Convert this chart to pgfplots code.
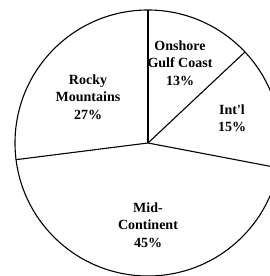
\documentclass[border=0pt]{standalone}
\usepackage{pgfplots}
\pgfplotsset{compat=1.18}
\usepackage{fontspec}
\setmainfont{Liberation Serif}
\begin{document}
\begin{tikzpicture}
\useasboundingbox (0,0) rectangle (270pt,276pt);
\clip (0,0) rectangle (270pt,276pt);
\begin{axis}[
  at={(0,0)}, anchor=south west,
  scale only axis, width=270pt, height=276pt,
  xmin=-148, xmax=122, ymin=-133, ymax=143,
  hide axis, clip=true,
]
% slice boundaries (shares 13, 15, 45, 27 percent, clockwise from top, radius 133)
\addplot[black, line width=1.1pt] coordinates {(0,0) (0,133)};
\addplot[black, line width=1.1pt] coordinates {(0,0) (96.96,91.04)};
\addplot[black, line width=1.1pt] coordinates {(0,0) (130.64,-24.92)};
\addplot[black, line width=1.1pt] coordinates {(0,0) (-131.95,-16.67)};
\draw[black, line width=1.1pt] (axis cs:0,0) circle [radius=133];
\tikzset{lbl/.style={font=\bfseries\fontsize{14}{17.5}\selectfont, align=center, inner sep=0pt}}
\node[lbl] at (axis cs:32,80) {Onshore\\Gulf Coast\\13\%};
\node[lbl] at (axis cs:-60,46) {Rocky\\Mountains\\27\%};
\node[lbl] at (axis cs:84,25) {Int\textquotesingle l\\15\%};
\node[lbl] at (axis cs:0,-82) {Mid-\\Continent\\45\%};
\end{axis}
\end{tikzpicture}
\end{document}
